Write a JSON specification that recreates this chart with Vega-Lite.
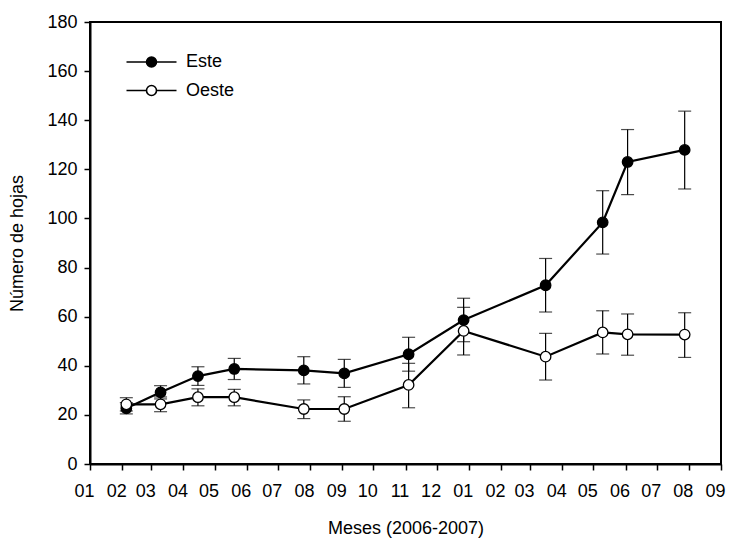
{
  "$schema": "https://vega.github.io/schema/vega-lite/v6.json",
  "autosize": {"type": "none"},
  "padding": {"left": 90, "top": 22, "right": 8, "bottom": 78},
  "width": 631,
  "height": 442,
  "background": "white",
  "config": {
    "view": {"stroke": "black", "strokeWidth": 2},
    "axis": {
      "grid": false,
      "domainColor": "black",
      "domainWidth": 2,
      "tickColor": "black",
      "tickWidth": 1.5,
      "tickSize": 6,
      "labelFont": "Liberation Sans",
      "labelFontSize": 18,
      "labelColor": "black",
      "titleFont": "Liberation Sans",
      "titleFontSize": 18,
      "titleFontWeight": "normal",
      "titleColor": "black"
    },
    "legend": {
      "labelFont": "Liberation Sans",
      "labelFontSize": 18,
      "labelColor": "black"
    }
  },
  "data": {
    "values": [
      {"fecha": "2006-02-05", "serie": "Este", "valor": 22.7, "lo": 20.4, "hi": 25.0},
      {"fecha": "2006-03-10", "serie": "Este", "valor": 29.2, "lo": 26.5, "hi": 31.9},
      {"fecha": "2006-04-15", "serie": "Este", "valor": 35.8, "lo": 32.0, "hi": 39.6},
      {"fecha": "2006-05-20", "serie": "Este", "valor": 38.7, "lo": 34.4, "hi": 43.0},
      {"fecha": "2006-07-26", "serie": "Este", "valor": 38.1, "lo": 32.6, "hi": 43.7},
      {"fecha": "2006-09-03", "serie": "Este", "valor": 36.9, "lo": 31.2, "hi": 42.6},
      {"fecha": "2006-11-04", "serie": "Este", "valor": 44.7, "lo": 37.8, "hi": 51.6},
      {"fecha": "2006-12-27", "serie": "Este", "valor": 58.6, "lo": 49.8, "hi": 67.5},
      {"fecha": "2007-03-16", "serie": "Este", "valor": 72.8, "lo": 61.9, "hi": 83.7},
      {"fecha": "2007-05-10", "serie": "Este", "valor": 98.4, "lo": 85.5, "hi": 111.3},
      {"fecha": "2007-06-03", "serie": "Este", "valor": 123.0, "lo": 109.7, "hi": 136.2},
      {"fecha": "2007-07-28", "serie": "Este", "valor": 127.9, "lo": 112.0, "hi": 143.7},
      {"fecha": "2006-02-05", "serie": "Oeste", "valor": 24.3, "lo": 21.6, "hi": 27.0},
      {"fecha": "2006-03-10", "serie": "Oeste", "valor": 24.3, "lo": 21.3, "hi": 27.3},
      {"fecha": "2006-04-15", "serie": "Oeste", "valor": 27.2, "lo": 23.7, "hi": 30.6},
      {"fecha": "2006-05-20", "serie": "Oeste", "valor": 27.2, "lo": 23.7, "hi": 30.4},
      {"fecha": "2006-07-26", "serie": "Oeste", "valor": 22.4, "lo": 18.5, "hi": 26.1},
      {"fecha": "2006-09-03", "serie": "Oeste", "valor": 22.4, "lo": 17.4, "hi": 27.4},
      {"fecha": "2006-11-04", "serie": "Oeste", "valor": 32.2, "lo": 22.9, "hi": 41.0},
      {"fecha": "2006-12-27", "serie": "Oeste", "valor": 54.2, "lo": 44.4, "hi": 63.8},
      {"fecha": "2007-03-16", "serie": "Oeste", "valor": 43.7, "lo": 34.2, "hi": 53.2},
      {"fecha": "2007-05-10", "serie": "Oeste", "valor": 53.6, "lo": 44.8, "hi": 62.4},
      {"fecha": "2007-06-03", "serie": "Oeste", "valor": 52.8, "lo": 44.3, "hi": 61.1},
      {"fecha": "2007-07-28", "serie": "Oeste", "valor": 52.7, "lo": 43.4, "hi": 61.6}
    ],
    "format": {"parse": {"fecha": "date:'%Y-%m-%d'"}}
  },
  "encoding": {
    "x": {
      "field": "fecha",
      "type": "temporal",
      "title": "Meses (2006-2007)",
      "scale": {
        "domain": [
          {"year": 2006, "month": 1, "date": 1},
          {"year": 2007, "month": 9, "date": 1}
        ],
        "nice": false
      },
      "axis": {
        "format": "%m",
        "tickCount": {"interval": "month", "step": 1},
        "labelOverlap": false,
        "labelPadding": 12,
        "labelOffset": -6,
        "titlePadding": 19,
        "labelFlush": false
      }
    }
  },
  "layer": [
    {
      "mark": {"type": "rule", "color": "black", "strokeWidth": 1.2},
      "encoding": {
        "y": {"field": "lo", "type": "quantitative"},
        "y2": {"field": "hi"}
      }
    },
    {
      "mark": {"type": "tick", "orient": "horizontal", "color": "black", "size": 13, "thickness": 1.2},
      "encoding": {
        "y": {"field": "lo", "type": "quantitative"}
      }
    },
    {
      "mark": {"type": "tick", "orient": "horizontal", "color": "black", "size": 13, "thickness": 1.2},
      "encoding": {
        "y": {"field": "hi", "type": "quantitative"}
      }
    },
    {
      "mark": {"type": "line", "color": "black", "strokeWidth": 2.2},
      "encoding": {
        "y": {"field": "valor", "type": "quantitative"},
        "detail": {"field": "serie", "type": "nominal"}
      }
    },
    {
      "mark": {"type": "circle", "stroke": "black", "strokeWidth": 1.3, "size": 110, "opacity": 1},
      "encoding": {
        "y": {
          "field": "valor",
          "type": "quantitative",
          "title": "Número de hojas",
          "scale": {"domain": [0, 180], "nice": false},
          "axis": {"values": [0, 20, 40, 60, 80, 100, 120, 140, 160, 180], "labelPadding": 7, "titlePadding": 20}
        },
        "fill": {
          "field": "serie",
          "type": "nominal",
          "scale": {"domain": ["Este", "Oeste"], "range": ["black", "white"]},
          "legend": {
            "title": null,
            "orient": "none",
            "legendX": 52.5,
            "legendY": 31,
            "padding": 0,
            "symbolType": "M-5,0H-1M1,0H5M-1,0A1,1,0,1,1,1,0A1,1,0,1,1,-1,0Z",
            "symbolSize": 100,
            "symbolStrokeColor": "black",
            "symbolStrokeWidth": 1.6,
            "symbolOpacity": 1,
            "labelOffset": 25.4,
            "rowPadding": 10.5
          }
        }
      }
    }
  ]
}
